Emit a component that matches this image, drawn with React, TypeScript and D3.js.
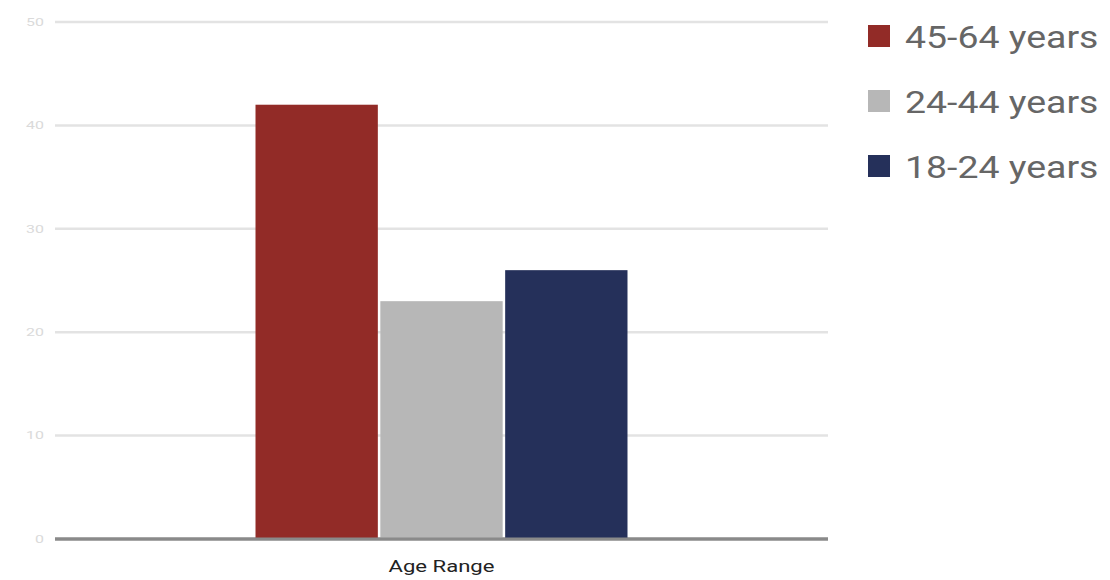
import React from "react";
import * as d3 from "d3";

const category = "Age Range";
const seriesNames = ["45-64 years", "24-44 years", "18-24 years"];
const seriesValues = [42, 23, 26];
const seriesColors = ["#922b27", "#b7b7b7", "#25305a"];
const yTicks = [0, 10, 20, 30, 40, 50];

const W = 1110;
const H = 580;
const left = 55;
const right = 828;
const top = 22;
const bottom = 539;

export default function App() {
  const y = d3.scaleLinear().domain([0, 50]).range([bottom, top]);
  const xBand = d3.scaleBand<string>().domain([category]).range([left, right]).paddingInner(0).paddingOuter(0.539);
  const inner = d3.scaleBand<string>().domain(seriesNames).range([xBand(category)!, xBand(category)! + xBand.bandwidth()]).paddingInner(0.02);
  const cx = xBand(category)! + xBand.bandwidth() / 2;
  return (
    <svg width={W} height={H} style={{ position: "absolute", left: 0, top: 0, background: "#fff" }}>
      {yTicks.map((t) => (
        <g key={t}>
          <line x1={left} x2={right} y1={y(t)} y2={y(t)} stroke={t === 0 ? "#8a8a8a" : "#e3e3e3"} strokeWidth={t === 0 ? 3 : 2.5} />
          <text transform={`translate(44, ${y(t)}) scale(1.45, 1)`} dy="0.35em" textAnchor="end" fontFamily="Roboto, sans-serif" fontSize={11} fill="#dadada">{t}</text>
        </g>
      ))}
      {seriesNames.map((s, i) => (
        <rect key={s} x={inner(s)} width={inner.bandwidth()} y={y(seriesValues[i])} height={y(0) - y(seriesValues[i])} fill={seriesColors[i]} />
      ))}
      <line x1={left} x2={right} y1={y(0)} y2={y(0)} stroke="#8a8a8a" strokeWidth={3} />
      <text transform={`translate(${cx}, 566) scale(1.3, 1)`} dy="0.35em" textAnchor="middle" fontFamily="Roboto, sans-serif" fontSize={17} fill="#222">{category}</text>
      {seriesNames.map((s, i) => (
        <g key={s} transform={`translate(868, ${36 + i * 65})`}>
          <rect x={0} y={-11} width={22} height={22} fill={seriesColors[i]} />
          <text transform="translate(37, 0) scale(1.17, 1)" dy="0.36em" fontFamily="Roboto, sans-serif" fontSize={32} fill="#666">{s}</text>
        </g>
      ))}
    </svg>
  );
}
